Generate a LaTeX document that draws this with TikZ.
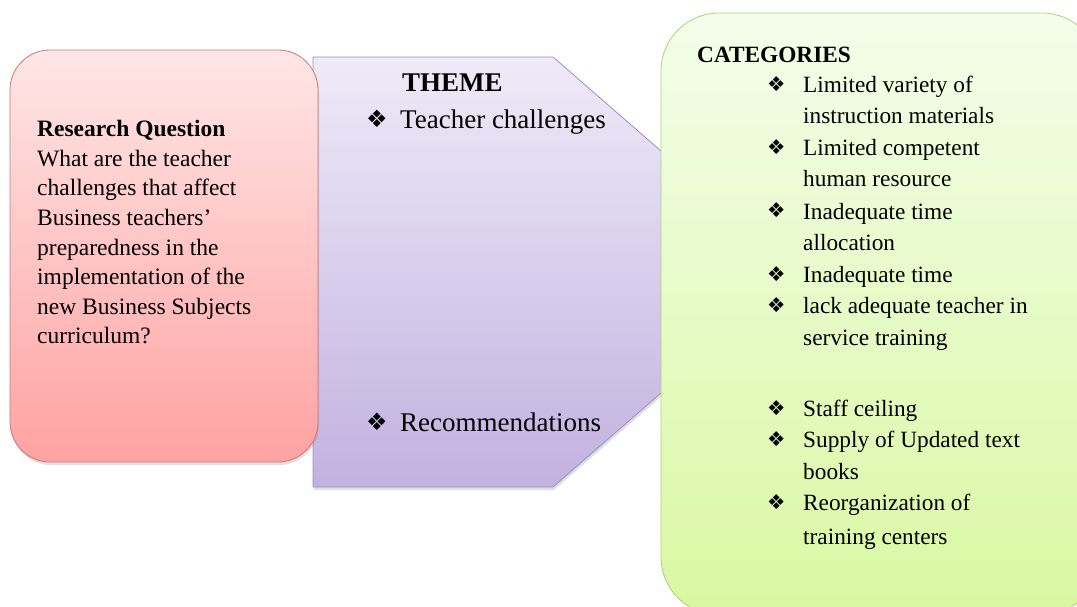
\documentclass[tikz,border=0pt]{standalone}
\usepackage{fontspec}
\setmainfont{Liberation Serif}
\newfontfamily\dejavu{DejaVu Sans}
\usepackage{tikz}
\usetikzlibrary{shadows,positioning}

\definecolor{qtop}{HTML}{FFE6E6}
\definecolor{qbot}{HTML}{FFA2A2}
\definecolor{qline}{HTML}{CF7676}
\definecolor{ttop}{HTML}{EFEAF8}
\definecolor{tbot}{HTML}{C2B1E0}
\definecolor{tline}{HTML}{9D8EC3}
\definecolor{ctop}{HTML}{F4FDEA}
\definecolor{cbot}{HTML}{D9F8A2}
\definecolor{cline}{HTML}{ABD477}

\newcommand{\dia}{{\dejavu\symbol{"2756}}}

\begin{document}
\begin{tikzpicture}[x=1pt, y=-1pt,
                    qbox/.style={draw=qline, thick, top color=qtop, bottom color=qbot,
                                 rounded corners=40pt,
                                 drop shadow={opacity=.25, shadow xshift=1pt, shadow yshift=-3pt}},
                    themebox/.style={draw=tline, thick, top color=ttop, bottom color=tbot,
                                 drop shadow={opacity=.25, shadow xshift=1pt, shadow yshift=-3pt}},
                    catbox/.style={draw=cline, thick, top color=ctop, bottom color=cbot,
                                 rounded corners=58pt},
                    qtxt/.style={inner sep=0pt, anchor=base west, font=\fontsize{23.5}{28}\selectfont},
                    ttxt/.style={inner sep=0pt, anchor=base west, font=\fontsize{27}{32}\selectfont},
                    ctxt/.style={inner sep=0pt, anchor=base west, font=\fontsize{23.3}{28}\selectfont},
                    tbul/.style={inner sep=0pt, anchor=base west, font=\fontsize{24}{28}\selectfont},
                    cbul/.style={inner sep=0pt, anchor=base west, font=\fontsize{20.5}{24}\selectfont},
                   ]

\useasboundingbox (0,0) rectangle (1077,607);
\clip (0,0) rectangle (1077,607);

% theme arrow (behind the other two boxes)
\path[themebox] (313,57) -- (553,57) -- (800,272) -- (553,487) -- (313,487) -- cycle;

% research question box
\path[qbox] (10,50) rectangle (318,462);

% categories box, runs off the right and bottom edges
\path[catbox] (661,13) rectangle (1100,615);

% research question
\node[qtxt] (rq) at (37,137) {\bfseries Research Question};
\foreach \t [count=\i] in {What are the teacher, challenges that affect,
    Business teachers’, preparedness in the, implementation of the,
    new Business Subjects, curriculum?}
  \node[qtxt] (rq\i) at (37,{137+29.5*\i}) {\t};

% theme
\node[ttxt] (theme) at (402,92) {\bfseries THEME};
\node[tbul] (tb1) at (366,128) {\dia};
\node[ttxt] (tc) at (400,129) {Teacher challenges};
\node[tbul] (tb2) at (366,430) {\dia};
\node[ttxt] (rec) at (400,431) {Recommendations};

% categories
\node[ctxt] (cat) at (697,63) {\bfseries CATEGORIES};
\foreach \y/\b/\t [count=\i] in {
    93/1/Limited variety of,
    124/0/instruction materials,
    156/1/Limited competent,
    187/0/human resource,
    219/1/Inadequate time,
    250/0/allocation,
    282/1/Inadequate time,
    313/1/lack adequate teacher in,
    345/0/service training,
    416/1/Staff ceiling,
    447/1/Supply of Updated text,
    479/0/books,
    510/1/Reorganization of,
    544/0/training centers}
{
  \node[ctxt] (c\i) at (803,\y) {\t};
  \ifnum\b=1 \node[cbul] (cb\i) at (767,\y-1) {\dia}; \fi
}

\end{tikzpicture}
\end{document}
